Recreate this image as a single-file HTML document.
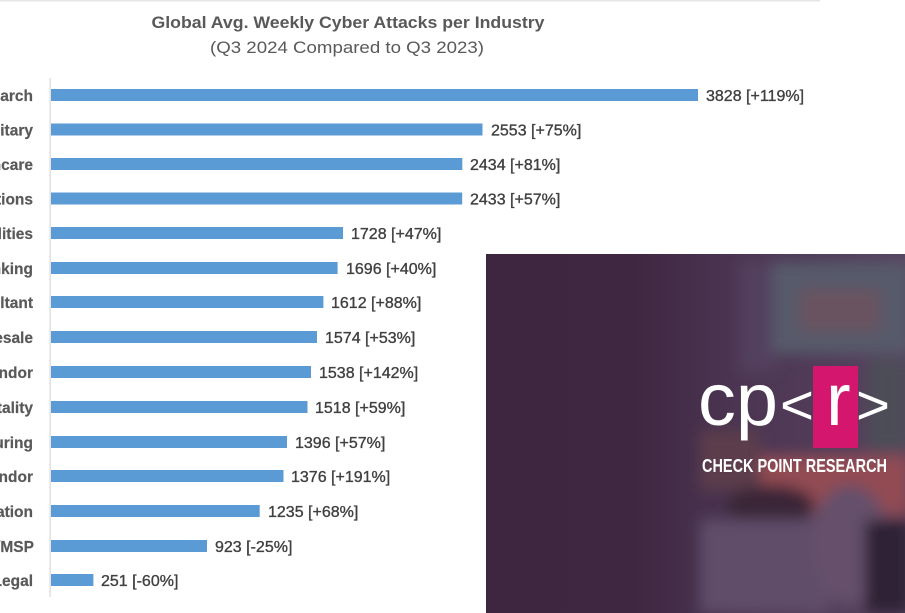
<!DOCTYPE html>
<html><head><meta charset="utf-8">
<style>
html,body{margin:0;padding:0;background:#fff;}
body{width:905px;height:613px;overflow:hidden;}
svg{display:block;}
</style></head>
<body>
<svg width="905" height="613" viewBox="0 0 905 613" xmlns="http://www.w3.org/2000/svg">
<defs>
<filter id="bl" x="-20%" y="-20%" width="140%" height="140%"><feGaussianBlur stdDeviation="7"/></filter>
<linearGradient id="pg" x1="0" y1="0" x2="1" y2="0">
<stop offset="0" stop-color="#3e2640"/>
<stop offset="0.35" stop-color="#3f2741"/>
<stop offset="0.6" stop-color="#4b3552"/>
<stop offset="1" stop-color="#58435f"/>
</linearGradient>
<clipPath id="pc"><rect x="486" y="254" width="419" height="359"/></clipPath>
</defs>
<rect x="0" y="0" width="820" height="1.5" fill="#e6e6e6"/>
<text x="348" y="28" text-anchor="middle" font-family="Liberation Sans, sans-serif" font-weight="bold" font-size="17" fill="#595959" textLength="393" lengthAdjust="spacingAndGlyphs">Global Avg. Weekly Cyber Attacks per Industry</text>
<text x="347" y="53" text-anchor="middle" font-family="Liberation Sans, sans-serif" font-size="17" fill="#595959" textLength="274" lengthAdjust="spacingAndGlyphs">(Q3 2024 Compared to Q3 2023)</text>
<rect x="49.5" y="78" width="1.2" height="519" fill="#d9d9d9"/>
<g fill="#5b9bd5">
<rect x="51" y="89" width="647" height="12"/>
<rect x="51" y="123.5" width="431.5" height="12"/>
<rect x="51" y="158" width="411.3" height="12"/>
<rect x="51" y="192.5" width="411.2" height="12"/>
<rect x="51" y="227" width="292" height="12"/>
<rect x="51" y="262" width="286.6" height="12"/>
<rect x="51" y="296" width="272.4" height="12"/>
<rect x="51" y="331" width="266" height="12"/>
<rect x="51" y="366" width="260" height="12"/>
<rect x="51" y="401" width="256.5" height="12"/>
<rect x="51" y="436" width="236" height="12"/>
<rect x="51" y="470" width="232.5" height="12"/>
<rect x="51" y="505" width="208.7" height="12"/>
<rect x="51" y="540" width="156" height="12"/>
<rect x="51" y="574" width="42.4" height="12"/>
</g>
<g font-family="Liberation Sans, sans-serif" font-size="16" fill="#404040" stroke="#404040" stroke-width="0.35">
<text x="706" y="101">3828 [+119%]</text>
<text x="491" y="135.5">2553 [+75%]</text>
<text x="470" y="170">2434 [+81%]</text>
<text x="470" y="204.5">2433 [+57%]</text>
<text x="351" y="239">1728 [+47%]</text>
<text x="346" y="274">1696 [+40%]</text>
<text x="331" y="308">1612 [+88%]</text>
<text x="325" y="343">1574 [+53%]</text>
<text x="319" y="378">1538 [+142%]</text>
<text x="315" y="413">1518 [+59%]</text>
<text x="295" y="448">1396 [+57%]</text>
<text x="291" y="482">1376 [+191%]</text>
<text x="268" y="517">1235 [+68%]</text>
<text x="215" y="552">923 [-25%]</text>
<text x="101" y="586">251 [-60%]</text>
</g>
<g font-family="Liberation Sans, sans-serif" font-size="15.5" font-weight="bold" fill="#595959" stroke="#595959" stroke-width="0.2" text-anchor="end">
<text x="33" y="101">Education/Research</text>
<text x="33" y="135.5">Government/Military</text>
<text x="33" y="170">Healthcare</text>
<text x="33" y="204.5">Communications</text>
<text x="33" y="239">Utilities</text>
<text x="33" y="274">Finance/Banking</text>
<text x="33" y="308">Consultant</text>
<text x="33" y="343">Retail/Wholesale</text>
<text x="33" y="378">Software Vendor</text>
<text x="33" y="413">Leisure/Hospitality</text>
<text x="33" y="448">Manufacturing</text>
<text x="33" y="482">Hardware Vendor</text>
<text x="33" y="517">Transportation</text>
<text x="34" y="552">ISP/MSP</text>
<text x="33" y="586">Insurance/Legal</text>
</g>
<g clip-path="url(#pc)">
<rect x="486" y="254" width="419" height="359" fill="url(#pg)"/>
<g filter="url(#bl)">
<rect x="740" y="262" width="36" height="110" fill="#52405e"/>
<rect x="772" y="262" width="140" height="92" fill="#575a6a"/>
<rect x="800" y="290" width="80" height="40" fill="#6a5260"/>
<rect x="700" y="430" width="60" height="60" fill="#5c3c4c"/>
<rect x="760" y="455" width="150" height="60" fill="#924c52"/>
<ellipse cx="770" cy="505" rx="45" ry="20" fill="#3a2838"/>
<rect x="700" y="520" width="130" height="93" fill="#5e4e6a"/>
<ellipse cx="850" cy="545" rx="40" ry="60" fill="#65506a"/>
<rect x="865" y="520" width="45" height="93" fill="#2e2234"/>
<rect x="868" y="360" width="40" height="90" fill="#4c4e56"/>
</g>
</g>
<rect x="813" y="366" width="45" height="82" fill="#d5166f"/>
<g font-family="Liberation Sans, sans-serif" fill="#ffffff">
<text x="698" y="425" font-size="74" textLength="80" lengthAdjust="spacingAndGlyphs">cp</text>
<text x="780" y="424" font-size="56" textLength="34" lengthAdjust="spacingAndGlyphs">&lt;</text>
<text x="826" y="425" font-size="74">r</text>
<text x="856" y="424" font-size="56" textLength="34" lengthAdjust="spacingAndGlyphs">&gt;</text>
<text x="702" y="472" font-size="18" font-weight="bold" textLength="185" lengthAdjust="spacingAndGlyphs">CHECK POINT RESEARCH</text>
</g>
</svg>
</body></html>
